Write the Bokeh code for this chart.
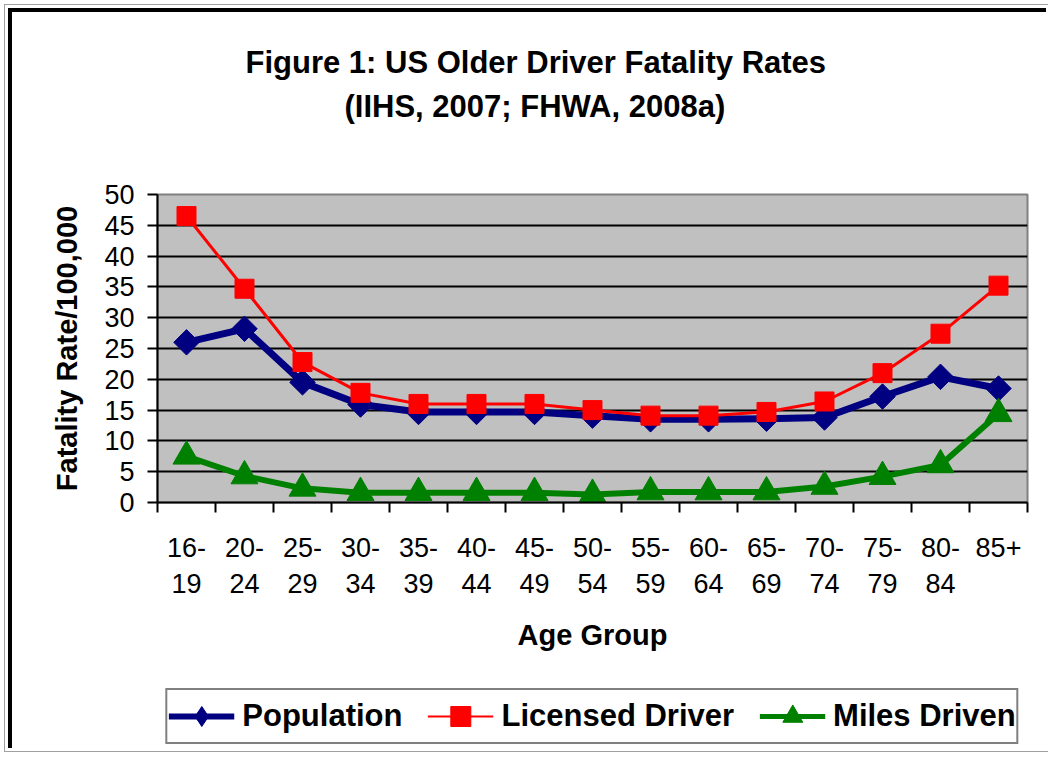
from bokeh.plotting import figure
from bokeh.layouts import column
from bokeh.models import Range1d, FixedTicker, Legend, LegendItem, Title
from bokeh.embed import file_html
from bokeh.resources import INLINE

# ---- data ----
age_groups = ["16-\n19", "20-\n24", "25-\n29", "30-\n34", "35-\n39", "40-\n44", "45-\n49",
              "50-\n54", "55-\n59", "60-\n64", "65-\n69", "70-\n74", "75-\n79", "80-\n84", "85+"]
population = [26.0, 28.2, 19.5, 15.9, 14.7, 14.7, 14.7, 14.1, 13.5, 13.5, 13.6, 13.8, 17.2, 20.4, 18.5]
licensed_driver = [46.5, 34.7, 22.8, 17.8, 16.0, 16.0, 16.0, 15.0, 14.1, 14.1, 14.7, 16.4, 21.0, 27.4, 35.2]
miles_driven = [7.5, 4.3, 2.3, 1.6, 1.6, 1.6, 1.6, 1.3, 1.7, 1.7, 1.7, 2.6, 4.2, 6.1, 14.4]
y_ticks = [0, 5, 10, 15, 20, 25, 30, 35, 40, 45, 50]
series_names = ["Population", "Licensed Driver", "Miles Driven"]
title_lines = ["Figure 1: US Older Driver Fatality Rates", "(IIHS, 2007; FHWA, 2008a)"]

FONT = "Liberation Sans"
n = len(age_groups)
xs = [i + 0.5 for i in range(n)]

STYLE = [
    dict(data=population, color="#000080", lw=7, marker="square", angle=0.785398, size=18,
         legend_marker="diamond"),
    dict(data=licensed_driver, color="#FF0000", lw=3, marker="square", angle=0.0, size=19,
         legend_marker="square"),
    dict(data=miles_driven, color="#008000", lw=6, marker="triangle", angle=0.0, size=27,
         legend_marker="triangle"),
]

# ---------------- main chart ----------------
p = figure(frame_width=870, frame_height=308, output_backend="svg", toolbar_location=None,
           x_range=Range1d(0, n), y_range=Range1d(y_ticks[0], y_ticks[-1]),
           min_border_left=145, min_border_right=19, min_border_top=182, min_border_bottom=160)
p.background_fill_color = "#C0C0C0"
p.border_fill_color = "white"
p.outline_line_color = "#808080"
p.outline_line_width = 2

p.xgrid.visible = False
p.ygrid.ticker = FixedTicker(ticks=y_ticks[1:-1])
p.ygrid.grid_line_color = "black"
p.ygrid.grid_line_width = 2

ya = p.yaxis[0]
ya.ticker = FixedTicker(ticks=y_ticks)
ya.major_tick_out = 10
ya.major_tick_in = 0
ya.minor_tick_out = 0
ya.minor_tick_in = 0
ya.axis_line_width = 2
ya.major_tick_line_width = 2
ya.major_label_text_font = FONT
ya.major_label_text_font_size = "27px"
ya.major_label_text_color = "black"
ya.major_label_standoff = 13
ya.axis_label = "Fatality Rate/100,000"
ya.axis_label_text_font = FONT
ya.axis_label_text_font_style = "bold"
ya.axis_label_text_font_size = "29px"
ya.axis_label_text_color = "black"
ya.axis_label_standoff = 18

xa = p.xaxis[0]
xa.ticker = FixedTicker(ticks=xs, minor_ticks=list(range(n + 1)))
xa.major_label_overrides = {x: lab for x, lab in zip(xs, age_groups)}
xa.major_tick_out = 0
xa.major_tick_in = 0
xa.minor_tick_out = 10
xa.minor_tick_in = 0
xa.minor_tick_line_color = "black"
xa.minor_tick_line_width = 2
xa.axis_line_width = 2
xa.major_label_text_font = FONT
xa.major_label_text_font_size = "27px"
xa.major_label_text_color = "black"
xa.major_label_text_line_height = 1.2
xa.major_label_standoff = 20
xa.axis_label = "Age Group"
xa.axis_label_text_font = FONT
xa.axis_label_text_font_style = "bold"
xa.axis_label_text_font_size = "29px"
xa.axis_label_text_color = "black"
xa.axis_label_standoff = 17

for s in STYLE:
    p.line(xs, s["data"], line_color=s["color"], line_width=s["lw"])
    p.scatter(xs, s["data"], marker=s["marker"], angle=s["angle"], size=s["size"],
              fill_color=s["color"], line_color=s["color"])

# title: spacer next to the frame, then the two centred lines
p.add_layout(Title(text=" ", standoff=33, text_font=FONT, text_font_size="30px"), "above")
p.add_layout(Title(text=title_lines[1], align="left", offset=187, standoff=6, text_font=FONT,
                   text_font_style="bold", text_font_size="31px", text_color="black"), "above")
p.add_layout(Title(text=title_lines[0], align="left", offset=88, standoff=8, text_font=FONT,
                   text_font_style="bold", text_font_size="31px", text_color="black"), "above")

# ---------------- legend strip (same series, view outside the data) ----------------
q = figure(frame_width=870, frame_height=64, output_backend="svg", toolbar_location=None,
           x_range=Range1d(-3, -2), y_range=Range1d(0, 1),
           min_border_left=145, min_border_right=19, min_border_top=22, min_border_bottom=0,
           x_axis_type=None, y_axis_type=None)
q.grid.visible = False
q.outline_line_color = None
q.background_fill_color = "white"
q.border_fill_color = "white"

items = []
for name, s in zip(series_names, STYLE):
    rl = q.line(xs, s["data"], line_color=s["color"], line_width=s["lw"] - 1)
    rm = q.scatter(xs, s["data"], marker=s["legend_marker"], size=s["size"],
                   fill_color=s["color"], line_color=s["color"])
    items.append(LegendItem(label=name, renderers=[rl, rm]))

legend = Legend(items=items, orientation="horizontal", location="center",
                label_text_font=FONT, label_text_font_style="bold", label_text_font_size="31px",
                label_text_color="black", glyph_width=66, glyph_height=50, label_standoff=8,
                spacing=25, padding=1, border_line_color="black", border_line_width=2,
                background_fill_color="white")
q.add_layout(legend)

layout = column(p, q, spacing=0,
                styles={"border-left": "4px solid black", "border-top": "4px solid black",
                        "margin-left": "8px", "margin-top": "8px",
                        "outline": "1px solid #a0a0a0", "outline-offset": "3px"})

open("out.html", "w").write(file_html(layout, INLINE))
